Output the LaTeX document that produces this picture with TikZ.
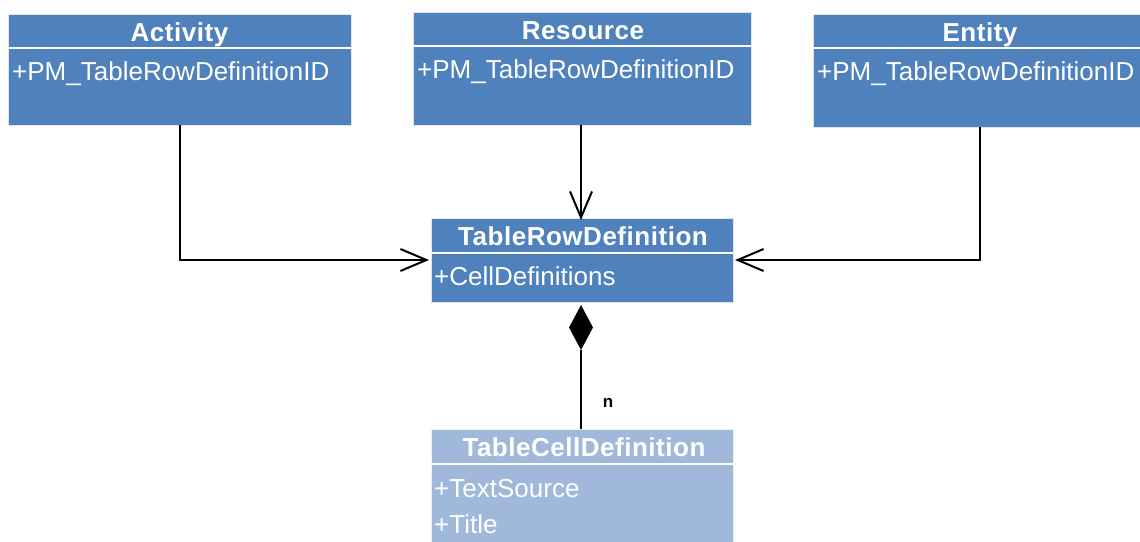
\documentclass[tikz,border=0pt]{standalone}
\usepackage{fontspec}
\setmainfont{Liberation Sans}
\newfontfamily\titlefont[LetterSpace=2]{Liberation Sans}
\usetikzlibrary{arrows.meta}
\definecolor{umlblue}{HTML}{4F81BD}
\definecolor{umllight}{HTML}{A0B9DA}
\begin{document}
\begin{tikzpicture}[x=1pt,y=-1pt,
  boxfill/.style={fill=umlblue,draw=white!80!umlblue,line width=0.8pt},
  lightfill/.style={fill=umllight,draw=white!80!umllight,line width=0.8pt},
  divider/.style={draw=white,line width=2pt},
  titletext/.style={text=white,font=\titlefont\fontsize{26}{30}\selectfont\bfseries,inner sep=0pt,anchor=base},
  attrtext/.style={text=white,font=\fontsize{26}{30}\selectfont,inner sep=0pt,anchor=base west},
  conn/.style={line width=2pt,draw=black},
  openarrow/.style={-{Straight Barb[length=26pt,width=22pt,line width=2pt]}},
  smalllabel/.style={font=\fontsize{17}{20}\selectfont\bfseries,inner sep=0pt}
]
\useasboundingbox (0,0) rectangle (1140,541);

% Activity
\path[boxfill] (8,14) rectangle (351,125);
\draw[divider] (8,48) -- (351,48);
\node[titletext] (acttitle) at (179.5,41.5) {Activity};
\node[attrtext] (actattr) at (12,80) {+PM\_TableRowDefinitionID};
\coordinate (actbot) at (180,125);

% Resource
\path[boxfill] (413,12) rectangle (751,125);
\draw[divider] (413,46) -- (751,46);
\node[titletext] (restitle) at (583,39) {Resource};
\node[attrtext] (resattr) at (417,78) {+PM\_TableRowDefinitionID};
\coordinate (resbot) at (581,125);

% Entity
\path[boxfill] (813,14) rectangle (1141,127);
\draw[divider] (813,48) -- (1141,48);
\node[titletext] (enttitle) at (980,41.5) {Entity};
\node[attrtext] (entattr) at (817,80) {+PM\_TableRowDefinitionID};
\coordinate (entbot) at (980,127);

% TableRowDefinition
\path[boxfill] (431,218) rectangle (733,302);
\draw[divider] (431,253) -- (733,253);
\node[titletext] (rowtitle) at (583,245.5) {TableRowDefinition};
\node[attrtext] (rowattr) at (434,285) {+CellDefinitions};
\coordinate (rowtop) at (581,218);
\coordinate (rowleft) at (431,260);
\coordinate (rowright) at (733,260);

% TableCellDefinition
\path[lightfill] (431,429) rectangle (733,542);
\draw[divider] (431,464) -- (733,464);
\node[titletext] (celltitle) at (584,456.5) {TableCellDefinition};
\node[attrtext] (cellattr1) at (434,497) {+TextSource};
\node[attrtext] (cellattr2) at (434,533) {+Title};
\coordinate (celltop) at (581,429);

% Connectors
\draw[conn,openarrow] (actbot) -- (180,260) -- ([xshift=-2pt]rowleft);
\draw[conn,openarrow] (resbot) -- ([yshift=-2pt]rowtop);
\draw[conn,openarrow] (entbot) -- (980,260) -- ([xshift=2pt]rowright);

% Composition
\coordinate (diatop) at (581,305);
\coordinate (diabot) at (581,350);
\draw[conn] (diabot) -- (celltop);
\fill[black] (diatop) -- (593,327.5) -- (diabot) -- (569,327.5) -- cycle;
\node[smalllabel] (nlabel) at (608,403) {n};
\end{tikzpicture}
\end{document}
